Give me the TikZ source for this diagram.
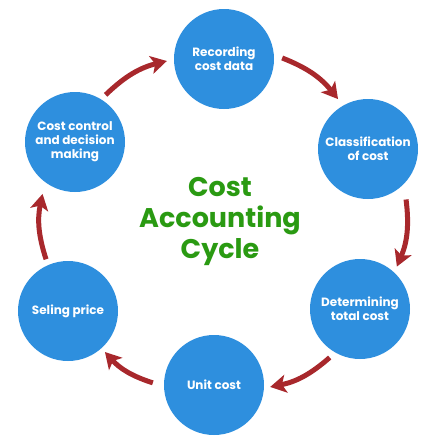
\documentclass[tikz,border=0pt]{standalone}
\usepackage{fontspec}
\setmainfont{Poppins}
\usetikzlibrary{arrows.meta}
\definecolor{stageblue}{HTML}{2E8FDE}
\definecolor{cyclered}{HTML}{A8282C}
\definecolor{titlegreen}{HTML}{2A9A12}
\tikzset{
    stage/.style={circle, fill=stageblue, minimum size=100pt, inner sep=0pt,
        text=white, align=center, font=\bfseries\fontsize{12}{14}\selectfont},
    cycletitle/.style={text=titlegreen, align=center, font=\bfseries\fontsize{27}{31}\selectfont},
    cyclearrow/.style={cyclered, line width=5pt, -{Stealth[length=16pt, width=18pt, inset=4pt]}},
}
\begin{document}
\begin{tikzpicture}[x=1pt, y=1pt]
    % fix the size
    \useasboundingbox (0, 0) rectangle (428, -442);
    % stage circles
    \node[stage] (rec) at (224, -59) {Recording\\cost data};
    \node[stage] (cls) at (368, -149) {Classification\\of cost};
    \node[stage] (det) at (360, -309) {Determining\\total cost};
    \node[stage] (unit) at (214, -385) {Unit cost};
    \node[stage] (sel) at (68, -311) {Seling price};
    \node[stage] (ctrl) at (75, -142) {Cost control\\and decision\\making};
    % title in the middle
    \node[cycletitle] (ttl) at (220, -221) {Cost\\Accounting\\Cycle};
    % curved arrows between the stages
    \foreach \a/\sa/\gs/\b/\ea/\ge in {ctrl/57/6/rec/182/7, rec/1/8/cls/121/8,
            cls/-53/13/det/49/6, det/238/7/unit/-2/6, unit/178/11/sel/-48/5,
            sel/113/6/ctrl/238/11}
        \draw[cyclearrow] ([shift={(\sa:\gs)}]\a.\sa) to[bend left=15] ([shift={(\ea:\ge)}]\b.\ea);
\end{tikzpicture}
\end{document}
